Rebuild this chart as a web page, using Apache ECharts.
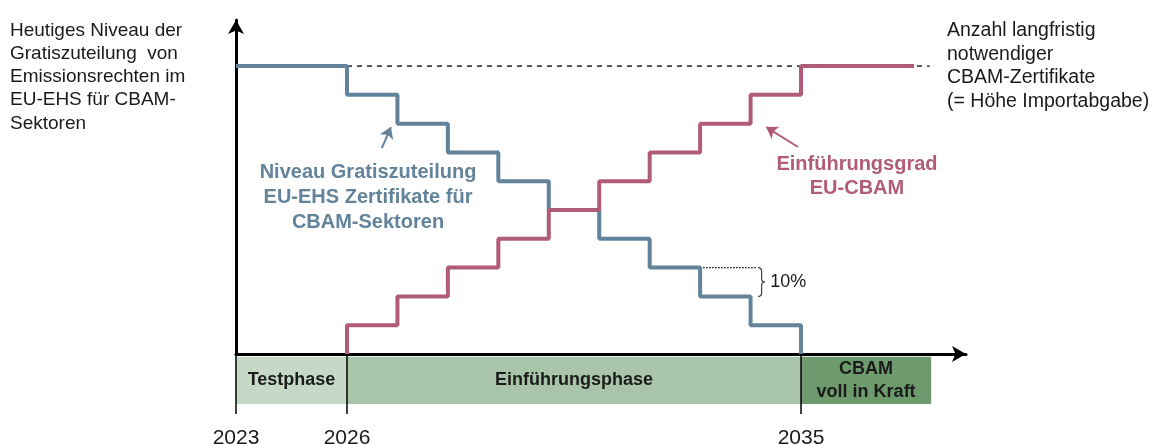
<!DOCTYPE html>
<html><head><meta charset="utf-8">
<script src="https://cdn.jsdelivr.net/npm/echarts@6/dist/echarts.min.js"></script>
<style>html,body{margin:0;padding:0;background:#fff}#c{width:1153px;height:444px}</style>
</head><body><div id="c"></div>
<script>
// ---- data ----
const stepYears = [2026, 2027, 2028, 2029, 2030, 2031, 2032, 2033, 2034, 2035];
const freeAllocation = [90, 80, 70, 60, 50, 40, 30, 20, 10, 0];   // % of today's level, from each year on
const freeAllocationToday = 100;
const cbamPhaseIn = [10, 20, 30, 40, 50, 60, 70, 80, 90, 100];   // % of long-term CBAM certificates
const cbamEnd = 2037.24;
const longTermLineEnd = 2037.55;
const testPhaseStart = 2023.8;   // schematic: test phase drawn compressed
const phaseNames = ['Testphase', 'Einführungsphase', 'CBAM\nvoll in Kraft'];
const phaseStarts = [testPhaseStart, 2026, 2035];
const phaseEnds = [2026, 2035, 2037.58];
const yearTickValues = [testPhaseStart, 2026, 2035];
const yearTickLabels = ['2023', '2026', '2035'];
const bracketFrom = 30, bracketTo = 20, bracketLabel = '10%';

// ---- build ----
const BLUE = '#62839a', RED = '#b05c78';
const PHASE_COLORS = ['#c6d9c6', '#a9c5a9', '#6e9b6e'];
const FONT = '"Liberation Sans", Arial, sans-serif';

const blueData = [[testPhaseStart, freeAllocationToday]].concat(stepYears.map((y, i) => [y, freeAllocation[i]]));
const redData = [[stepYears[0], 0]].concat(stepYears.map((y, i) => [y, cbamPhaseIn[i]])).concat([[cbamEnd, 100]]);
const phaseData = phaseNames.map((n, i) => [phaseStarts[i], phaseEnds[i], i]);

const chart = echarts.init(document.getElementById('c'), null, {renderer: 'canvas'});
const xCommon = {type: 'value', min: testPhaseStart, max: 2038.27, splitLine: {show: false}, axisTick: {show: false}};
chart.setOption({
  animation: false,
  grid: [
    {left: 236, right: 187, top: 20, bottom: 90, outerBoundsMode: 'none', containLabel: false},
    {left: 236, right: 187, top: 355, bottom: 30, outerBoundsMode: 'none', containLabel: false}
  ],
  xAxis: [
    Object.assign({}, xCommon, {gridIndex: 0, axisLabel: {show: false},
      axisLine: {show: true, onZero: true, symbol: ['none', 'arrow'], symbolSize: [12, 14], lineStyle: {color: '#000', width: 3}}}),
    Object.assign({}, xCommon, {gridIndex: 1, axisLine: {show: false},
      axisLabel: {show: true, customValues: yearTickValues, margin: 14, fontSize: 21, fontFamily: FONT, color: '#1a1a1a',
        formatter: v => { const i = yearTickValues.findIndex(t => Math.abs(t - v) < 1e-6); return i >= 0 ? yearTickLabels[i] : ''; }}})
  ],
  yAxis: [
    {gridIndex: 0, type: 'value', min: 0, max: 116, splitLine: {show: false}, axisTick: {show: false}, axisLabel: {show: false},
      axisLine: {show: true, symbol: ['none', 'arrow'], symbolSize: [12, 14], lineStyle: {color: '#000', width: 3}}},
    {gridIndex: 1, type: 'value', min: 0, max: 1, show: false}
  ],
  series: [
    {type: 'line', xAxisIndex: 0, yAxisIndex: 0, data: [[stepYears[0], 100], [longTermLineEnd, 100]], symbol: 'none', silent: true,
      lineStyle: {color: '#000', width: 1.3, type: [5, 5]}, z: 1},
    {type: 'line', xAxisIndex: 0, yAxisIndex: 0, data: blueData, step: 'end', symbol: 'none', silent: true,
      lineStyle: {color: BLUE, width: 4}, z: 2,
      markLine: {silent: true, symbol: ['none', 'arrow'], symbolSize: 11, label: {show: false},
        lineStyle: {color: BLUE, width: 2, type: 'solid'},
        data: [[{coord: [2026.69, 71.5]}, {coord: [2026.87, 78.8]}]]}},
    {type: 'line', xAxisIndex: 0, yAxisIndex: 0, data: redData, step: 'end', symbol: 'none', silent: true,
      lineStyle: {color: RED, width: 4}, z: 3,
      markLine: {silent: true, symbol: ['none', 'arrow'], symbolSize: 11, label: {show: false},
        lineStyle: {color: RED, width: 2, type: 'solid'},
        data: [[{coord: [2034.94, 71.9]}, {coord: [2034.31, 78.8]}]]}},
    {type: 'line', xAxisIndex: 0, yAxisIndex: 0, data: [[2033, bracketFrom], [2034.1, bracketFrom]], symbol: 'none', silent: true,
      lineStyle: {color: '#000', width: 1.3, type: [1.5, 1.5]}, z: 1},
    {type: 'custom', xAxisIndex: 0, yAxisIndex: 0, silent: true, data: [[2034.15, bracketFrom, bracketTo]],
      renderItem: (params, api) => {
        const p = api.coord([api.value(0), api.value(1)]);
        const q = api.coord([api.value(0), api.value(2)]);
        const w = 3.5, m = (p[1] + q[1]) / 2, x = p[0];
        const d = `M${x} ${p[1]} Q${x + w} ${p[1]} ${x + w} ${p[1] + 4} L${x + w} ${m - 3} Q${x + w} ${m} ${x + 2 * w} ${m} Q${x + w} ${m} ${x + w} ${m + 3} L${x + w} ${q[1] - 4} Q${x + w} ${q[1]} ${x} ${q[1]}`;
        return {type: 'group', children: [
          {type: 'path', shape: {pathData: d}, style: {stroke: '#333', fill: 'none', lineWidth: 1.1}},
          {type: 'text', x: x + 2 * w + 5, y: m, style: {text: bracketLabel, fill: '#1a1a1a', font: '18px ' + FONT, verticalAlign: 'middle'}}
        ]};
      }},
    {type: 'custom', xAxisIndex: 1, yAxisIndex: 1, silent: true, data: phaseData,
      renderItem: (params, api) => {
        const a = api.coord([api.value(0), 0.97]);
        const b = api.coord([api.value(1), 0.17]);
        const i = api.value(2);
        return {type: 'group', children: [
          {type: 'rect', shape: {x: a[0], y: a[1], width: b[0] - a[0], height: b[1] - a[1]}, style: {fill: PHASE_COLORS[i]}},
          {type: 'text', x: (a[0] + b[0]) / 2, y: (a[1] + b[1]) / 2,
            style: {text: phaseNames[i], fill: '#1a1a1a', font: 'bold 18px ' + FONT, align: 'center', verticalAlign: 'middle', lineHeight: 23}}
        ]};
      }},
    {type: 'custom', xAxisIndex: 1, yAxisIndex: 1, silent: true, data: yearTickValues.map(v => [v]), z: 5,
      renderItem: (params, api) => {
        const a = api.coord([api.value(0), 1]);
        const b = api.coord([api.value(0), 0]);
        return {type: 'line', shape: {x1: a[0], y1: a[1], x2: b[0], y2: b[1]}, style: {stroke: '#000', lineWidth: 1.5}};
      }}
  ],
  graphic: [
    {type: 'text', left: 10, top: 19, style: {text: 'Heutiges Niveau der\nGratiszuteilung  von\nEmissionsrechten im\nEU-EHS für CBAM-\nSektoren',
      font: '19px ' + FONT, fill: '#1a1a1a', lineHeight: 23.2}},
    {type: 'text', left: 947, top: 19, style: {text: 'Anzahl langfristig\nnotwendiger\nCBAM-Zertifikate\n(= Höhe Importabgabe)',
      font: '19.5px ' + FONT, fill: '#1a1a1a', lineHeight: 23.5}},
    {type: 'text', x: 368, y: 160, style: {text: 'Niveau Gratiszuteilung\nEU-EHS Zertifikate für\nCBAM-Sektoren',
      font: 'bold 20px ' + FONT, fill: BLUE, align: 'center', lineHeight: 25}},
    {type: 'text', x: 857, y: 152, style: {text: 'Einführungsgrad\nEU-CBAM',
      font: 'bold 20px ' + FONT, fill: RED, align: 'center', lineHeight: 24}}
  ]
});
</script></body></html>
